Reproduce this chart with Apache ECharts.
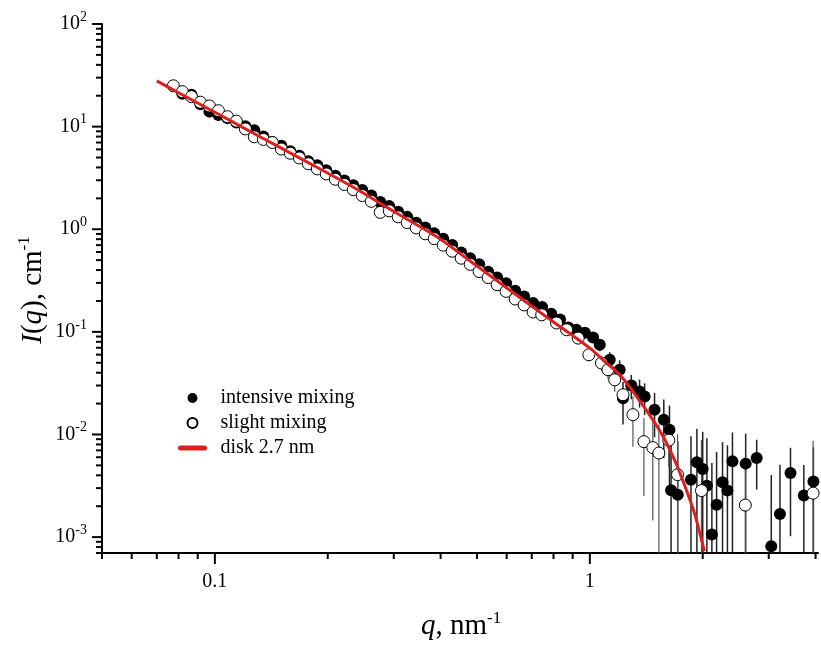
<!DOCTYPE html>
<html><head><meta charset="utf-8">
<script src="https://cdn.jsdelivr.net/npm/echarts@6/dist/echarts.min.js"></script>
<style>html,body{margin:0;padding:0;background:#fff}#c{width:821px;height:648px}</style>
</head><body><div id="c"></div>
<script>
// ---- axis ranges / ticks ----
const X_MIN = 0.05, X_MAX = 4.06, Y_MIN = 7e-4, Y_MAX = 100;
const xMajorTicks = [0.1, 1];
const xTickLabels = ['0.1', '1'];
const xMinorTicks = [0.05,0.06,0.07,0.08,0.09,0.2,0.3,0.4,0.5,0.6,0.7,0.8,0.9,2,3,4];
const yMajorTicks = [0.001,0.01,0.1,1,10,100];
const yTickExponents = ['-3','-2','-1','0','1','2'];
const yMinorTicks = [0.0007,0.0008,0.0009,
  0.002,0.003,0.004,0.005,0.006,0.007,0.008,0.009,
  0.02,0.03,0.04,0.05,0.06,0.07,0.08,0.09,
  0.2,0.3,0.4,0.5,0.6,0.7,0.8,0.9,
  2,3,4,5,6,7,8,9,
  20,30,40,50,60,70,80,90];

// ---- series: slight mixing (open circles) ----
const qSlight = [0.0775,0.0819,0.0866,0.0915,0.0967,0.1022,0.1080,0.1141,0.1206,0.1274,0.1347,0.1423,0.1504,0.1589,0.1680,0.1775,0.1876,0.1982,0.2095,0.2214,0.2340,0.2472,0.2613,0.2761,0.2918,0.3083,0.3258,0.3443,0.3639,0.3845,0.4064,0.4294,0.4538,0.4796,0.5068,0.5356,0.5660,0.5981,0.6321,0.6680,0.7059,
  0.744,0.815,0.867,0.931,0.994,1.074,1.118,1.165,1.226,1.303,1.394,1.472,1.528,1.624,1.714,1.985,2.598,3.94];
const iSlight = [25.0,21.9,19.6,17.3,15.9,14.3,12.5,11.3,9.5,7.95,7.5,7.0,6.05,5.5,4.95,4.35,3.87,3.46,3.07,2.73,2.43,2.13,1.87,1.46,1.51,1.32,1.16,1.03,0.903,0.81,0.70,0.611,0.522,0.455,0.387,0.338,0.288,0.248,0.209,0.183,0.156,
  0.1467,0.122,0.1048,0.0869,0.0598,0.0497,0.0428,0.0341,0.0244,0.0156,0.00851,0.00745,0.0066,0.0088,0.00406,0.00284,0.00205,0.00268];
const eSlight = [3.0,2.5,2.0,1.5,0,0,0,0,0,0,0,0,0,0,0,0,0,0,0,0,0,0,0,0,0,0,0,0,0,0,0,0,0,0,0,0,0,0,0,0,0,
  0.008,0.008,0.008,0.008,0.008,0.008,0.008,0.008,0.008,0.008,0.006,0.006,0.006,0.004,0.006,0.006,0.004,0.006];

// ---- series: intensive mixing (filled circles) ----
const qIntensive = [0.0819,0.0866,0.0915,0.0967,0.1022,0.1080,0.1141,0.1206,0.1274,0.1347,0.1423,0.1504,0.1589,0.1680,0.1775,0.1876,0.1982,0.2095,0.2214,0.2340,0.2472,0.2613,0.2761,0.2918,0.3083,0.3258,0.3443,0.3639,0.3845,0.4064,0.4294,0.4538,0.4796,0.5068,0.5356,0.5660,0.5981,0.6321,0.6680,0.7059,
  0.746,0.789,0.833,0.876,0.920,0.970,1.020,1.063,1.130,1.201,1.226,1.290,1.357,1.400,1.488,1.575,1.631,1.647,1.716,1.861,1.930,2.000,2.052,2.116,2.178,2.259,2.328,2.401,2.604,2.786,3.047,3.214,3.429,3.722,3.947];
const iIntensive = [20.9,20.5,16.5,14.0,13.0,12.1,10.96,10.1,9.2,8.0,7.1,6.5,5.75,5.2,4.6,4.2,3.75,3.33,2.98,2.69,2.41,2.13,1.84,1.68,1.48,1.32,1.16,1.04,0.915,0.808,0.703,0.595,0.523,0.455,0.385,0.338,0.297,0.251,0.221,0.191,
  0.175,0.150,0.132,0.110,0.105,0.098,0.088,0.0749,0.0534,0.0428,0.0225,0.0300,0.0263,0.0235,0.0174,0.0139,0.0111,0.00286,0.00259,0.00363,0.00535,0.00461,0.00317,0.00106,0.00207,0.00342,0.00284,0.00547,0.0052,0.0059,0.000813,0.00168,0.00422,0.00255,0.00349];
const eIntensive = [0,0,0,0,0,0,0,0,0,0,0,0,0,0,0,0,0,0,0,0,0,0,0,0,0,0,0,0,0,0,0,0,0,0,0,0,0,0,0,0,
  0.01,0.01,0.01,0.01,0.01,0.01,0.01,0.01,0.01,0.01,0.01,0.008,0.008,0.008,0.008,0.008,0.008,0.006,0.006,0.006,0.006,0.006,0.006,0.0042,0.0047,0.005,0.005,0.005,0.005,0.003,0.0032,0.0034,0.0032,0.0025,0.004];

// ---- fit: disk 2.7 nm ----
const qFit = [0.070,0.080,0.100,0.130,0.168,0.228,0.300,0.396,0.500,0.645,0.800,1.000,1.100,1.213,1.371,1.549,1.681,1.787,1.900,2.020];
const iFit = [27.9,21.4,13.8,8.2,4.96,2.71,1.49,0.819,0.438,0.221,0.125,0.0695,0.0508,0.0368,0.0203,0.01035,0.00569,0.00325,0.00172,0.00073];

const FONT = 'Liberation Serif';
const zip = (a, b) => a.map((v, i) => [v, b[i]]);
const zip3 = (a, b, c) => a.map((v, i) => [v, b[i], c[i]]);

function errRender(color, width) {
  return function (params, api) {
    const q = api.value(0), v = api.value(1), s = api.value(2);
    if (!s) return null;
    const hi = api.coord([q, Math.min(v + s, Y_MAX)]);
    const lo = api.coord([q, Math.max(v - s, Y_MIN)]);
    return {type: 'line', shape: {x1: hi[0], y1: hi[1], x2: lo[0], y2: lo[1]},
      style: {stroke: color, lineWidth: width}};
  };
}
function xTickRender(len) {
  return function (params, api) {
    const p = api.coord([api.value(0), Y_MIN]);
    return {type: 'line', shape: {x1: p[0], y1: p[1], x2: p[0], y2: p[1] + len},
      style: {stroke: '#000', lineWidth: 2}};
  };
}
function yTickRender(len) {
  return function (params, api) {
    const p = api.coord([X_MIN, api.value(1)]);
    return {type: 'line', shape: {x1: p[0], y1: p[1], x2: p[0] - len, y2: p[1]},
      style: {stroke: '#000', lineWidth: 2}};
  };
}
function matchIdx(v, arr) {
  for (let i = 0; i < arr.length; i++) {
    if (Math.abs(Math.log10(v) - Math.log10(arr[i])) < 1e-6) return i;
  }
  return -1;
}

const titleRich = {
  i: {fontFamily: FONT, fontSize: 29, lineHeight: 29, fontStyle: 'italic', fill: '#000', verticalAlign: 'bottom'},
  n: {fontFamily: FONT, fontSize: 29, lineHeight: 29, fill: '#000', verticalAlign: 'bottom'},
  s: {fontFamily: FONT, fontSize: 17, lineHeight: 17, fill: '#000', verticalAlign: 'bottom', padding: [0, 0, 14, 0]}
};

const chart = echarts.init(document.getElementById('c'), null, {renderer: 'canvas'});
chart.setOption({
  animation: false,
  backgroundColor: '#fff',
  grid: {left: 102, top: 24, right: 0, bottom: 95, containLabel: false},
  xAxis: {
    type: 'log', logBase: 10, min: X_MIN, max: X_MAX,
    axisLine: {show: true, lineStyle: {color: '#000', width: 2}},
    axisTick: {show: false}, splitLine: {show: false}, minorTick: {show: false},
    axisLabel: {
      margin: 19, color: '#000', fontFamily: FONT, fontSize: 20,
      showMinLabel: true, showMaxLabel: true, hideOverlap: false,
      formatter: v => { const i = matchIdx(v, xMajorTicks); return i >= 0 ? xTickLabels[i] : ''; }
    }
  },
  yAxis: {
    type: 'log', logBase: 10, min: Y_MIN, max: Y_MAX,
    axisLine: {show: true, lineStyle: {color: '#000', width: 2}},
    axisTick: {show: false}, splitLine: {show: false}, minorTick: {show: false},
    axisLabel: {
      margin: 15, color: '#000', fontFamily: FONT, hideOverlap: false,
      formatter: v => { const i = matchIdx(v, yMajorTicks); return i >= 0 ? '{b|10}{s|' + yTickExponents[i] + '}' : ''; },
      rich: {
        b: {fontFamily: FONT, fontSize: 20, lineHeight: 20, color: '#000', verticalAlign: 'bottom'},
        s: {fontFamily: FONT, fontSize: 14, lineHeight: 14, color: '#000', verticalAlign: 'bottom', padding: [0, 0, 10, 0]}
      }
    }
  },
  legend: {
    orient: 'vertical', left: 173, top: 383, itemWidth: 24, itemHeight: 10, itemGap: 5,
    selectedMode: false,
    textStyle: {fontFamily: FONT, fontSize: 20, color: '#000', padding: [0, 0, 0, 11]},
    data: [
      {name: 'intensive mixing'},
      {name: 'slight mixing'},
      {name: 'disk 2.7 nm', itemStyle: {opacity: 0}, lineStyle: {width: 5, cap: 'round'}}
    ]
  },
  graphic: [
    {type: 'text', x: 421, y: 641, z: 100,
      style: {text: '{i|q}{n|, nm}{s|-1}', align: 'left', verticalAlign: 'bottom', rich: titleRich}},
    {type: 'text', x: 33, y: 290, rotation: Math.PI / 2, z: 100,
      style: {text: '{i|I}{n|(}{i|q}{n|), cm}{s|-1}', align: 'center', verticalAlign: 'middle', rich: titleRich}}
  ],
  series: [
    {type: 'custom', name: 'errI', silent: true, z: 1, clip: false,
      renderItem: errRender('#222', 1.5), data: zip3(qIntensive, iIntensive, eIntensive)},
    {type: 'custom', name: 'errS', silent: true, z: 1, clip: false,
      renderItem: errRender('#555', 1.2), data: zip3(qSlight, iSlight, eSlight)},
    {type: 'scatter', name: 'intensive mixing', z: 2, silent: true, symbol: 'circle', symbolSize: 12,
      itemStyle: {color: '#000', opacity: 1}, data: zip(qIntensive, iIntensive)},
    {type: 'scatter', name: 'slight mixing', z: 3, silent: true, symbol: 'circle', symbolSize: 12,
      itemStyle: {color: '#fff', borderColor: '#000', borderWidth: 1, opacity: 1}, data: zip(qSlight, iSlight)},
    {type: 'line', name: 'disk 2.7 nm', z: 4, silent: true, symbol: 'none', showSymbol: false,
      smooth: 0.3, lineStyle: {color: '#dd1f1f', width: 3}, itemStyle: {color: '#dd1f1f'},
      data: zip(qFit, iFit)},
    {type: 'custom', name: 'xMajor', silent: true, z: 5, clip: false,
      renderItem: xTickRender(11), data: xMajorTicks.map(v => [v, Y_MIN])},
    {type: 'custom', name: 'xMinor', silent: true, z: 5, clip: false,
      renderItem: xTickRender(6), data: xMinorTicks.map(v => [v, Y_MIN])},
    {type: 'custom', name: 'yMajor', silent: true, z: 5, clip: false,
      renderItem: yTickRender(10), data: yMajorTicks.map(v => [X_MIN, v])},
    {type: 'custom', name: 'yMinor', silent: true, z: 5, clip: false,
      renderItem: yTickRender(6), data: yMinorTicks.map(v => [X_MIN, v])}
  ]
});
</script>
</body></html>
